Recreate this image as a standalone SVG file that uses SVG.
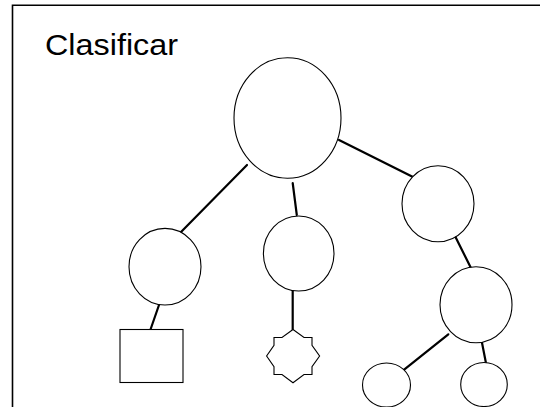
<svg xmlns="http://www.w3.org/2000/svg" width="540" height="407" viewBox="0 0 540 407">
<style>
.shape{fill:#fff;stroke:#000;stroke-width:1.1}
.edge{stroke:#000;stroke-width:2.2;stroke-linecap:round;fill:none}
.frame{stroke:#000;stroke-width:1.6;fill:none}
.title{font-family:"Liberation Sans",Arial,sans-serif;font-size:30px;fill:#000}
</style>
<rect width="540" height="407" fill="#fff"/>
<g id="frame">
<path class="frame" d="M12.5,407 V5.2 H540"/>
</g>
<text class="title" x="45" y="55" textLength="133" lengthAdjust="spacingAndGlyphs">Clasificar</text>
<g id="connectors">
<line class="edge" x1="339" y1="140" x2="415" y2="178"/>
<line class="edge" x1="247" y1="165" x2="181" y2="232"/>
<line class="edge" x1="292.7" y1="183" x2="296.8" y2="215"/>
<line class="edge" x1="159" y1="305" x2="150.5" y2="329.5"/>
<line class="edge" x1="292.7" y1="290" x2="292.7" y2="329.5"/>
<line class="edge" x1="454" y1="234" x2="470.7" y2="267.5"/>
<line class="edge" x1="448.3" y1="334.3" x2="402.9" y2="370.7"/>
<line class="edge" x1="482" y1="342.7" x2="486" y2="363.3"/>
</g>
<g id="root"><ellipse class="shape" cx="287.5" cy="118" rx="53.5" ry="60.3"/></g>
<g id="right-top"><ellipse class="shape" cx="438" cy="203.7" rx="36" ry="38"/></g>
<g id="left"><ellipse class="shape" cx="165" cy="266.7" rx="36" ry="38.3"/></g>
<g id="middle"><ellipse class="shape" cx="298.7" cy="253.5" rx="35.3" ry="37.5"/></g>
<g id="right-mid"><ellipse class="shape" cx="476" cy="304.7" rx="36" ry="38"/></g>
<g id="square"><rect class="shape" x="120" y="329.5" width="63" height="53"/></g>
<g id="star"><polygon class="shape" points="293,329.5 304,337.5 312,337.5 312,345.3 319.6,356 312,366.7 312,374.5 304,374.5 293,382.7 282,374.5 274,374.5 274,366.7 266.6,356 274,345.3 274,337.5 282,337.5"/></g>
<g id="leaf-left"><ellipse class="shape" cx="386.5" cy="385" rx="24" ry="22"/></g>
<g id="leaf-right"><ellipse class="shape" cx="484" cy="384.5" rx="23.3" ry="22"/></g>
</svg>
